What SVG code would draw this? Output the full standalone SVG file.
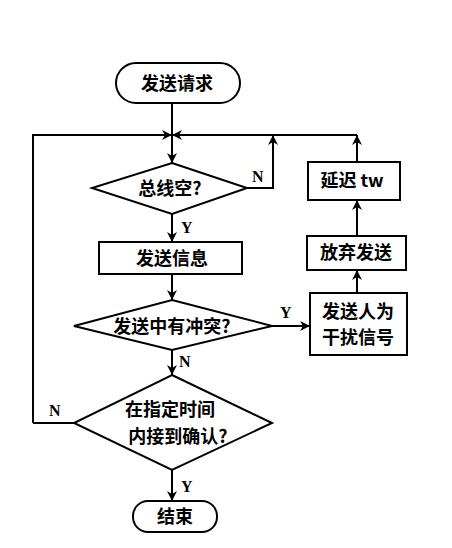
<svg xmlns="http://www.w3.org/2000/svg" width="452" height="548" viewBox="0 0 452 548">
<style>
.s{fill:#fff;stroke:#000;stroke-width:2}
.c{fill:none;stroke:#000;stroke-width:2}
.t{font-family:"Noto Sans CJK SC","Noto Sans",sans-serif;font-size:18px;font-weight:700;fill:#000;text-anchor:middle}
.l{font-family:"Liberation Serif",serif;font-size:16px;font-weight:700;fill:#000}
</style>
<defs>
<marker id="a" viewBox="0 0 10 10" refX="10" refY="5" markerWidth="10" markerHeight="10" markerUnits="userSpaceOnUse" orient="auto">
<path d="M0,0 L10,5 L0,10 L3,5 Z" fill="#000"/>
</marker>
</defs>
<rect width="452" height="548" fill="#fff"/>
<g id="connectors">
<path class="c" d="M172,103 V135"/>
<path class="c" d="M33,423 V135 H172" marker-end="url(#a)"/>
<path class="c" d="M357,135 H172" marker-end="url(#a)"/>
<path class="c" d="M172,135 V163" marker-end="url(#a)"/>
<path class="c" d="M247,188 H273 V135" marker-end="url(#a)"/>
<path class="c" d="M172,214 V242" marker-end="url(#a)"/>
<path class="c" d="M172,274 V300" marker-end="url(#a)"/>
<path class="c" d="M272,326 H310" marker-end="url(#a)"/>
<path class="c" d="M357,293 V270" marker-end="url(#a)"/>
<path class="c" d="M357,236 V200" marker-end="url(#a)"/>
<path class="c" d="M357,162 V135" marker-end="url(#a)"/>
<path class="c" d="M172,350 V375" marker-end="url(#a)"/>
<path class="c" d="M74,423 H33"/>
<path class="c" d="M172,470 V501" marker-end="url(#a)"/>
<text class="l" x="252" y="182">N</text>
<text class="l" x="181" y="233">Y</text>
<text class="l" x="280" y="318">Y</text>
<text class="l" x="179" y="367">N</text>
<text class="l" x="49" y="416">N</text>
<text class="l" x="181" y="492">Y</text>
</g>
<g id="start"><rect class="s" x="116" y="63" width="124" height="40" rx="20"/><text class="t" x="177" y="90">发送请求</text></g>
<g id="busFree"><path class="s" d="M172,163 L247,188 L172,214 L92,188 Z"/><text class="t" x="170" y="195">总线空?</text></g>
<g id="send"><rect class="s" x="99" y="242" width="143" height="32"/><text class="t" x="172" y="265">发送信息</text></g>
<g id="collision"><path class="s" d="M172,300 L272,326 L172,350 L74,326 Z"/><text class="t" x="172" y="333">发送中有冲突?</text></g>
<g id="ack"><path class="s" d="M172,375 L272,423 L172,470 L74,423 Z"/><text class="t" x="170" y="416">在指定时间</text><text class="t" x="178" y="443">内接到确认?</text></g>
<g id="end"><rect class="s" x="133" y="501" width="84" height="31" rx="15"/><text class="t" x="175" y="523">结束</text></g>
<g id="jam"><rect class="s" x="310" y="293" width="97" height="62"/><text class="t" x="358" y="318">发送人为</text><text class="t" x="358" y="344">干扰信号</text></g>
<g id="abort"><rect class="s" x="307" y="236" width="99" height="34"/><text class="t" x="356" y="259">放弃发送</text></g>
<g id="delay"><rect class="s" x="308" y="162" width="92" height="38"/><text class="t" x="352" y="187">延迟 tw</text></g>
</svg>
